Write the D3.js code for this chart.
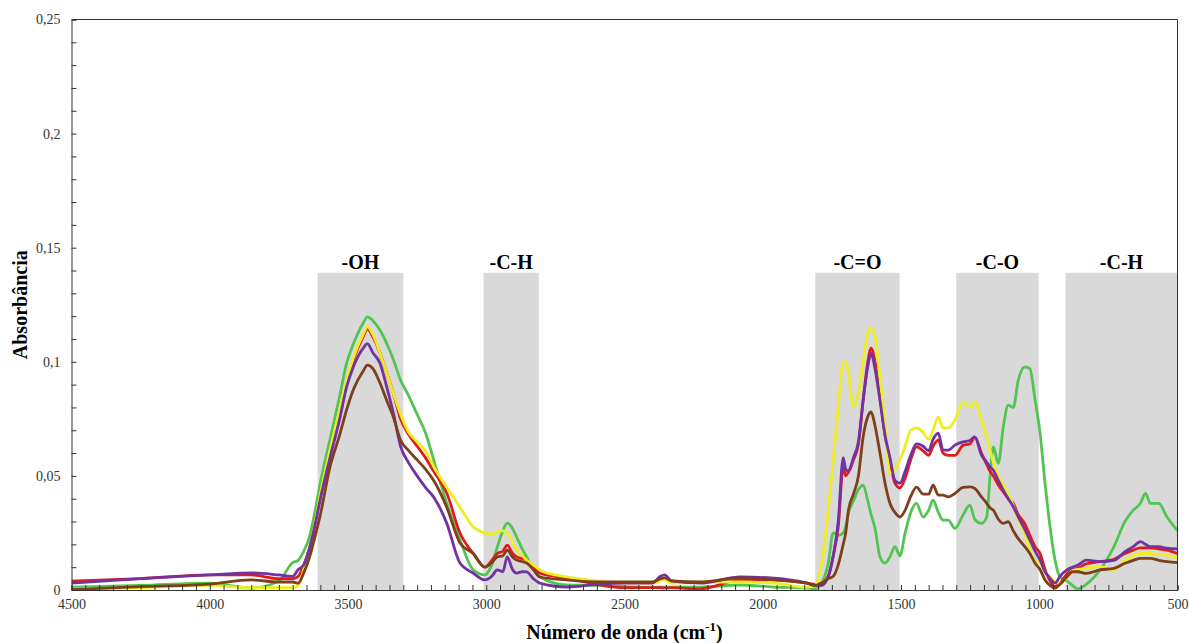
<!DOCTYPE html>
<html>
<head>
<meta charset="utf-8">
<script src="https://cdn.jsdelivr.net/npm/d3@7"></script>
<style>
  body { margin: 0; background: #fff; }
  svg { display: block; font-family: "Liberation Serif", "Times New Roman", serif; }
</style>
</head>
<body>
<svg id="chart" width="1189" height="643"></svg>
<script>
// wavenumber grid (cm-1) shared by all spectra
const waveNumbers = [4500, 4250, 4000, 3850, 3750, 3700, 3680, 3660, 3640, 3620, 3600, 3565, 3530, 3505, 3480, 3445, 3430, 3410, 3384, 3360, 3336, 3310, 3280, 3250, 3220, 3190, 3143, 3095, 3047, 3005, 2980, 2960, 2940, 2924, 2905, 2890, 2870, 2854, 2830, 2806, 2709, 2600, 2500, 2400, 2370, 2355, 2330, 2226, 2080, 1960, 1840, 1811, 1787, 1763, 1745, 1727, 1709, 1700, 1690, 1672, 1654, 1637, 1620, 1608, 1594, 1576, 1558, 1540, 1522, 1504, 1485, 1465, 1444, 1420, 1400, 1384, 1365, 1348, 1329, 1305, 1275, 1251, 1233, 1209, 1190, 1178, 1166, 1148, 1130, 1112, 1094, 1076, 1052, 1034, 1015, 997, 979, 961, 943, 925, 900, 880, 860, 830, 780, 730, 690, 660, 634, 616, 598, 568, 538, 500];

const greenSeries = [0.0013, 0.002, 0.003, 0.0008, 0.004, 0.012, 0.013, 0.017, 0.023, 0.034, 0.047, 0.066, 0.085, 0.0994, 0.108, 0.117, 0.1197, 0.118, 0.1138, 0.108, 0.101, 0.092, 0.085, 0.077, 0.069, 0.057, 0.038, 0.0219, 0.0088, 0.0066, 0.011, 0.0188, 0.026, 0.0293, 0.027, 0.0232, 0.018, 0.0145, 0.009, 0.0057, 0.0022, 0.002, 0.0015, 0.0013, 0.0013, 0.0013, 0.0013, 0.0013, 0.0022, 0.0013, 0.0008, 0.0005, 0.003, 0.0118, 0.025, 0.024, 0.025, 0.028, 0.0337, 0.039, 0.044, 0.046, 0.039, 0.033, 0.027, 0.0145, 0.0118, 0.0145, 0.019, 0.015, 0.025, 0.034, 0.038, 0.032, 0.035, 0.0394, 0.034, 0.0306, 0.0306, 0.027, 0.033, 0.0372, 0.031, 0.0292, 0.032, 0.0496, 0.0627, 0.0555, 0.0715, 0.081, 0.080, 0.0919, 0.0978, 0.097, 0.0832, 0.0686, 0.0467, 0.0277, 0.0131, 0.0058, 0.004, 0.002, 0.0005, 0.0025, 0.0088, 0.019, 0.03, 0.035, 0.038, 0.0423, 0.038, 0.038, 0.032, 0.026];

const yellowSeries = [0.0004, 0.001, 0.002, 0.001, 0.001, 0.001, 0.002, 0.009, 0.018, 0.029, 0.042, 0.0613, 0.079, 0.092, 0.102, 0.112, 0.1153, 0.112, 0.1037, 0.095, 0.0862, 0.077, 0.069, 0.065, 0.061, 0.054, 0.045, 0.0363, 0.0276, 0.025, 0.0245, 0.0254, 0.026, 0.025, 0.021, 0.0175, 0.015, 0.0131, 0.011, 0.0088, 0.0057, 0.004, 0.003, 0.003, 0.004, 0.0044, 0.003, 0.0035, 0.0035, 0.003, 0.0013, 0.002, 0.0118, 0.035, 0.057, 0.08, 0.1, 0.1, 0.095, 0.080, 0.086, 0.1, 0.113, 0.115, 0.111, 0.093, 0.073, 0.051, 0.053, 0.057, 0.063, 0.070, 0.071, 0.069, 0.066, 0.070, 0.0758, 0.071, 0.071, 0.0745, 0.0824, 0.080, 0.0824, 0.0744, 0.067, 0.0613, 0.056, 0.0496, 0.046, 0.042, 0.037, 0.031, 0.0245, 0.0175, 0.013, 0.0118, 0.008, 0.0058, 0.0035, 0.003, 0.0055, 0.0085, 0.009, 0.0095, 0.0102, 0.0088, 0.0131, 0.015, 0.016, 0.016, 0.016, 0.0155, 0.0153, 0.014];

const redSeries = [0.0039, 0.005, 0.0066, 0.0066, 0.005, 0.005, 0.006, 0.011, 0.018, 0.029, 0.041, 0.06, 0.077, 0.091, 0.101, 0.111, 0.1143, 0.111, 0.1037, 0.095, 0.0862, 0.075, 0.068, 0.063, 0.058, 0.052, 0.0425, 0.025, 0.016, 0.01, 0.013, 0.016, 0.017, 0.0197, 0.016, 0.0145, 0.0138, 0.0131, 0.01, 0.0074, 0.0053, 0.0025, 0.001, 0.001, 0.001, 0.0009, 0.001, 0.0005, 0.0044, 0.0044, 0.003, 0.0025, 0.003, 0.006, 0.015, 0.0276, 0.054, 0.05, 0.0517, 0.057, 0.064, 0.083, 0.1, 0.106, 0.1, 0.085, 0.068, 0.057, 0.0468, 0.0447, 0.049, 0.057, 0.0627, 0.061, 0.059, 0.063, 0.0657, 0.06, 0.059, 0.059, 0.0635, 0.064, 0.067, 0.06, 0.055, 0.052, 0.05, 0.046, 0.043, 0.04, 0.038, 0.033, 0.029, 0.024, 0.019, 0.016, 0.009, 0.004, 0.0015, 0.003, 0.007, 0.009, 0.0095, 0.0115, 0.0124, 0.0135, 0.016, 0.0175, 0.0185, 0.0185, 0.0185, 0.018, 0.0175, 0.016];

const purpleSeries = [0.003, 0.005, 0.0066, 0.0075, 0.0066, 0.006, 0.009, 0.011, 0.018, 0.028, 0.04, 0.058, 0.075, 0.089, 0.098, 0.106, 0.108, 0.104, 0.0993, 0.089, 0.0775, 0.063, 0.0556, 0.05, 0.045, 0.0407, 0.0293, 0.0118, 0.0074, 0.0044, 0.006, 0.0088, 0.008, 0.0145, 0.009, 0.0074, 0.008, 0.0079, 0.005, 0.003, 0.0013, 0.0025, 0.003, 0.003, 0.006, 0.0066, 0.004, 0.003, 0.0057, 0.0052, 0.003, 0.002, 0.002, 0.006, 0.015, 0.03, 0.058, 0.053, 0.052, 0.058, 0.065, 0.083, 0.098, 0.1037, 0.097, 0.083, 0.068, 0.058, 0.048, 0.0468, 0.052, 0.059, 0.064, 0.063, 0.061, 0.066, 0.0687, 0.0613, 0.0613, 0.0635, 0.0649, 0.0655, 0.0671, 0.0591, 0.056, 0.054, 0.0525, 0.048, 0.0438, 0.04, 0.0365, 0.032, 0.0265, 0.0219, 0.017, 0.0131, 0.008, 0.0051, 0.003, 0.006, 0.0088, 0.01, 0.0109, 0.0131, 0.0124, 0.013, 0.0168, 0.019, 0.0212, 0.02, 0.019, 0.019, 0.0183, 0.018];

const brownSeries = [0.0002, 0.0015, 0.0026, 0.0044, 0.0035, 0.0035, 0.003, 0.0075, 0.014, 0.023, 0.033, 0.054, 0.068, 0.079, 0.088, 0.096, 0.0985, 0.097, 0.0906, 0.083, 0.0758, 0.0657, 0.061, 0.057, 0.053, 0.048, 0.0363, 0.0206, 0.016, 0.01, 0.012, 0.0145, 0.015, 0.0175, 0.0145, 0.0131, 0.0125, 0.0118, 0.009, 0.0057, 0.0044, 0.0035, 0.0035, 0.0035, 0.005, 0.0053, 0.004, 0.0035, 0.0053, 0.0044, 0.003, 0.002, 0.003, 0.005, 0.006, 0.011, 0.02, 0.025, 0.035, 0.042, 0.05, 0.067, 0.076, 0.078, 0.072, 0.06, 0.047, 0.038, 0.034, 0.032, 0.035, 0.041, 0.0451, 0.042, 0.042, 0.046, 0.0416, 0.0416, 0.0408, 0.0423, 0.045, 0.0452, 0.0445, 0.0408, 0.038, 0.036, 0.035, 0.031, 0.0292, 0.0299, 0.026, 0.0225, 0.019, 0.016, 0.0117, 0.009, 0.0044, 0.002, 0.0008, 0.0025, 0.0058, 0.008, 0.008, 0.0073, 0.0088, 0.0095, 0.0117, 0.013, 0.0139, 0.0139, 0.0139, 0.013, 0.0124, 0.012];

// shaded functional-group bands
const bandLabels = ["-OH", "-C-H", "-C=O", "-C-O", "-C-H"];
const bandStarts = [3610, 3010, 1810, 1300, 905];
const bandEnds = [3300, 2810, 1505, 1002, 500];
const bandTop = 0.139;

const seriesList = [
  { values: greenSeries, color: "#52c452" },
  { values: redSeries, color: "#e11b1b" },
  { values: yellowSeries, color: "#eeee22" },
  { values: purpleSeries, color: "#7232a3" },
  { values: brownSeries, color: "#7d3f1c" }
];

const yTickValues = d3.range(0, 26).map(i => i / 100);
const xTickValues = d3.range(4500, 499, -50);

const svg = d3.select("#chart");
const plotLeft = 71.5, plotRight = 1177.5, plotTop = 19.5, plotBottom = 590;

const x = d3.scaleLinear().domain([4500, 500]).range([plotLeft, plotRight]);
const y = d3.scaleLinear().domain([0, 0.25]).range([plotBottom, plotTop]);

// bands
const bands = svg.append("g").attr("class", "bands");
bandLabels.forEach((label, i) => {
  bands.append("rect")
    .attr("x", x(bandStarts[i]))
    .attr("y", y(bandTop))
    .attr("width", x(bandEnds[i]) - x(bandStarts[i]))
    .attr("height", y(0) - y(bandTop))
    .attr("fill", "#d9d9d9");
  bands.append("text")
    .attr("x", (x(bandStarts[i]) + x(bandEnds[i])) / 2)
    .attr("y", y(bandTop) - 4)
    .attr("text-anchor", "middle")
    .attr("font-size", 20)
    .attr("font-weight", "bold")
    .attr("fill", "#000")
    .text(label);
});

// spectra
svg.append("clipPath").attr("id", "plot-clip")
  .append("rect").attr("x", plotLeft).attr("y", plotTop)
  .attr("width", plotRight - plotLeft).attr("height", plotBottom - plotTop);

const line = d3.line()
  .x((d, i) => x(waveNumbers[i]))
  .y(d => y(d))
  .curve(d3.curveMonotoneX);

svg.append("g").attr("clip-path", "url(#plot-clip)")
  .selectAll("path")
  .data(seriesList)
  .join("path")
  .attr("d", d => line(d.values))
  .attr("fill", "none")
  .attr("stroke", d => d.color)
  .attr("stroke-width", 2.8)
  .attr("stroke-linejoin", "round");

// axes
const fmtY = d => (Math.round(d * 100) % 5 === 0) ? String(+d.toFixed(2)).replace(".", ",") : "";
const yAxis = svg.append("g")
  .attr("transform", `translate(${plotLeft},0)`)
  .call(d3.axisLeft(y).tickValues(yTickValues).tickSize(-5).tickPadding(11).tickFormat(fmtY));

const xAxis = svg.append("g")
  .attr("transform", `translate(0,${plotBottom})`)
  .call(d3.axisBottom(x).tickValues(xTickValues).tickSize(-5).tickPadding(9)
    .tickFormat(d => d % 500 === 0 ? d : ""));

[xAxis, yAxis].forEach(g => {
  g.select(".domain").attr("stroke", "#333");
  g.selectAll(".tick line").attr("stroke", "#333");
  g.selectAll("text").attr("font-family", "Liberation Serif").attr("font-size", 14).attr("fill", "#333");
});

// frame top and right
svg.append("path")
  .attr("d", `M${plotLeft},${plotTop}H${plotRight}V${plotBottom}`)
  .attr("fill", "none")
  .attr("stroke", "#333");

// axis titles
svg.append("text")
  .attr("transform", `translate(27,${(plotTop + plotBottom) / 2}) rotate(-90)`)
  .attr("text-anchor", "middle")
  .attr("font-size", 20)
  .attr("font-weight", "bold")
  .text("Absorbância");

const xTitle = svg.append("text")
  .attr("x", (plotLeft + plotRight) / 2)
  .attr("y", 639)
  .attr("text-anchor", "middle")
  .attr("font-size", 20)
  .attr("font-weight", "bold");
xTitle.append("tspan").text("Número de onda (cm");
xTitle.append("tspan").attr("font-size", 13).attr("dy", -8).text("-1");
xTitle.append("tspan").attr("dy", 8).text(")");
</script>
</body>
</html>
